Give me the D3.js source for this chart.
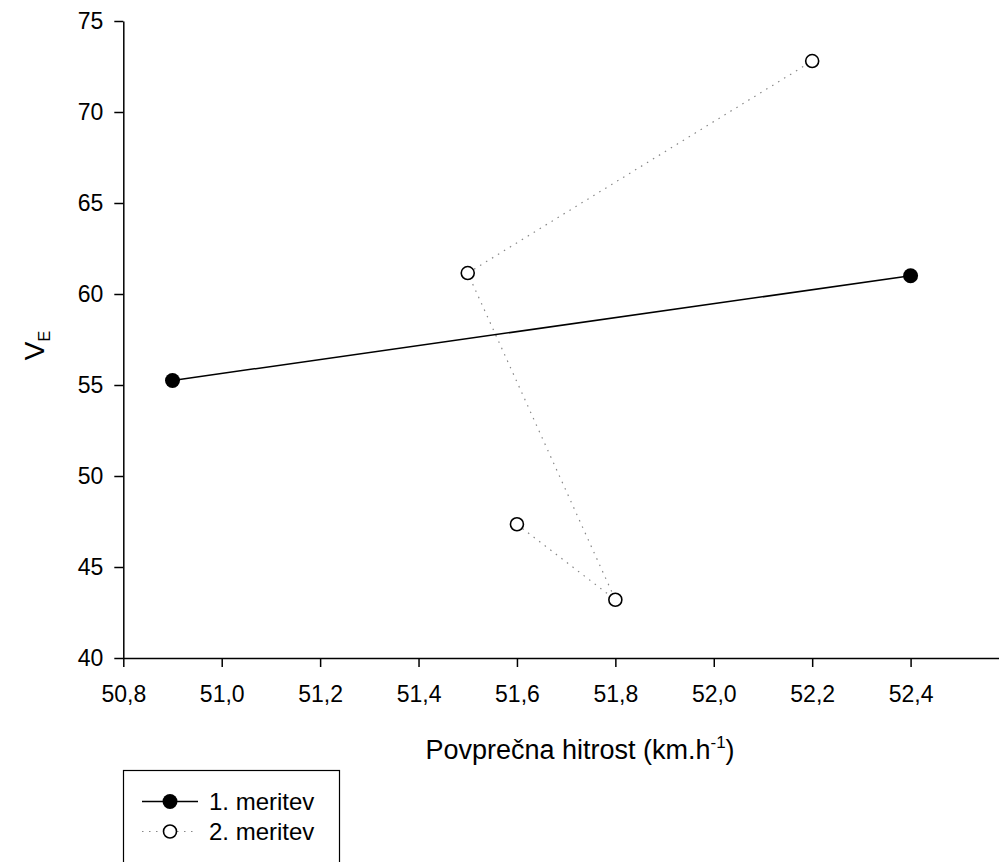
<!DOCTYPE html>
<html>
<head>
<meta charset="utf-8">
<script src="https://cdn.jsdelivr.net/npm/d3@7"></script>
<style>
  body { margin: 0; background: #fff; }
  text { font-family: "Liberation Sans", Arial, sans-serif; fill: #000; }
  .axis path, .axis line { stroke: #000; stroke-width: 1.5; }
  .axis text { font-size: 23px; }
</style>
</head>
<body>
<svg width="999" height="862"></svg>
<script>
    // 1. meritev
    var speed1 = [50.9, 52.4];
    var ve1 = [55.25, 61.0];
    // 2. meritev
    var speed2 = [51.6, 51.8, 51.5, 52.2];
    var ve2 = [47.35, 43.2, 61.15, 72.8];

    var xTicks = [50.8, 51.0, 51.2, 51.4, 51.6, 51.8, 52.0, 52.2, 52.4];
    var yTicks = [40, 45, 50, 55, 60, 65, 70, 75];
    var seriesNames = ["1. meritev", "2. meritev"];

    var svg = d3.select("svg"),
        width = +svg.attr("width"),
        height = +svg.attr("height");

    var x = d3.scaleLinear().domain([50.8, 52.6]).range([123.3, 1009]);
    var y = d3.scaleLinear().domain([40, 75]).range([658, 21]);

    var fmt = function (d) { return d3.format(".1f")(d).replace(".", ","); };

    svg.append("g")
        .attr("class", "axis")
        .attr("transform", "translate(0," + y(40) + ")")
        .call(d3.axisBottom(x).tickValues(xTicks).tickFormat(fmt).tickSize(9).tickSizeOuter(0).tickPadding(19));

    svg.append("g")
        .attr("class", "axis")
        .attr("transform", "translate(" + x(50.8) + ",0)")
        .call(d3.axisLeft(y).tickValues(yTicks).tickSize(9).tickSizeOuter(0).tickPadding(11));

    // axis titles
    var xt = svg.append("text")
        .attr("x", 580).attr("y", 759)
        .attr("text-anchor", "middle")
        .style("font-size", "27px");
    xt.append("tspan").text("Povprečna hitrost (km.h");
    xt.append("tspan").attr("dy", -11).style("font-size", "17px").text("-1");
    xt.append("tspan").attr("dy", 11).text(")");

    var yt = svg.append("text")
        .attr("transform", "translate(44," + (y(57.5) + 6) + ") rotate(-90)")
        .attr("text-anchor", "middle")
        .style("font-size", "28px");
    yt.append("tspan").text("V");
    yt.append("tspan").attr("dy", 6).style("font-size", "16px").text("E");

    var line = d3.line()
        .x(function (d) { return x(d[0]); })
        .y(function (d) { return y(d[1]); });

    var pts1 = d3.zip(speed1, ve1),
        pts2 = d3.zip(speed2, ve2);

    svg.append("path")
        .datum(pts2)
        .attr("d", line)
        .attr("fill", "none")
        .attr("stroke", "#888")
        .attr("stroke-width", 1.2)
        .attr("stroke-dasharray", "1.5,5.5");

    svg.append("path")
        .datum(pts1)
        .attr("d", line)
        .attr("fill", "none")
        .attr("stroke", "#000")
        .attr("stroke-width", 1.5);

    svg.append("g").selectAll("circle")
        .data(pts2).enter()
        .append("circle")
            .attr("cx", function (d) { return x(d[0]); })
            .attr("cy", function (d) { return y(d[1]); })
            .attr("r", 6.5)
            .attr("fill", "#fff")
            .attr("stroke", "#000")
            .attr("stroke-width", 1.6);

    svg.append("g").selectAll("circle")
        .data(pts1).enter()
        .append("circle")
            .attr("cx", function (d) { return x(d[0]); })
            .attr("cy", function (d) { return y(d[1]); })
            .attr("r", 7.5)
            .attr("fill", "#000");

    // legend
    var legend = svg.append("g");
    legend.append("rect")
        .attr("x", 123.5).attr("y", 770.5)
        .attr("width", 216).attr("height", 120)
        .attr("fill", "#fff").attr("stroke", "#000").attr("stroke-width", 1.2);

    var legendY = [801.5, 831.5];
    seriesNames.forEach(function (name, i) {
        var ly = legendY[i];
        legend.append("line")
            .attr("x1", 142).attr("x2", 198).attr("y1", ly).attr("y2", ly)
            .attr("stroke", i === 0 ? "#000" : "#888")
            .attr("stroke-width", i === 0 ? 1.5 : 1.2)
            .attr("stroke-dasharray", i === 0 ? null : "1.5,5.5");
        legend.append("circle")
            .attr("cx", 170).attr("cy", ly)
            .attr("r", i === 0 ? 7.5 : 6.5)
            .attr("fill", i === 0 ? "#000" : "#fff")
            .attr("stroke", i === 0 ? "none" : "#000")
            .attr("stroke-width", 1.6);
        legend.append("text")
            .attr("x", 209).attr("y", ly + 8)
            .style("font-size", "24px")
            .text(name);
    });
</script>
</body>
</html>
